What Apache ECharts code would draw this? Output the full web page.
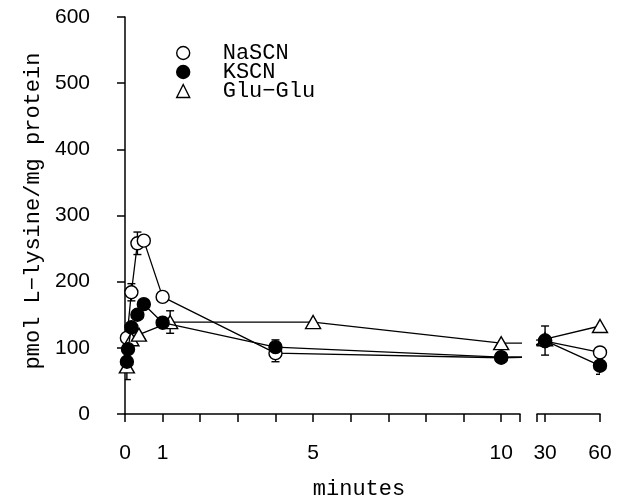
<!DOCTYPE html>
<html>
<head>
<meta charset="utf-8">
<script src="https://cdn.jsdelivr.net/npm/echarts@6/dist/echarts.min.js"></script>
<style>html,body{margin:0;padding:0;background:#fff}#c{width:626px;height:503px}</style>
</head>
<body>
<div id="c"></div>
<script>
// ---- data (minutes, pmol L-lysine / mg protein) ----
const naTime = [0.05, 0.17, 0.33, 0.5, 1, 4, 10, 30, 60];
const naVal  = [115, 184, 258, 262, 177, 92, 85, 110, 93];
const naErr  = [0, 13, 17, 0, 0, 13, 0, 0, 0];

const kTime = [0.05, 0.08, 0.17, 0.33, 0.5, 1, 4, 10, 30, 60];
const kVal  = [79, 98, 131, 150, 166, 138, 101, 86, 111, 73];
const kErr  = [27, 0, 0, 0, 0, 0, 11, 0, 22, 13];

const gTime = [0.05, 0.17, 0.37, 1.2, 5, 10, 30, 60];
const gVal  = [72, 113, 120, 139, 139, 107, 113, 133];
const gErr  = [0, 0, 0, 17, 0, 0, 0, 0];

const seriesNames = ['NaSCN', 'KSCN', 'Glu\u2212Glu'];
const yTicks = [0, 100, 200, 300, 400, 500, 600];
const xLabels1 = [0, 1, 5, 10];
const xTicks1 = [0, 1, 2, 3, 4, 5, 6, 7, 8, 9, 10, 10.5];
const xLabels2 = [30, 60];
const xTicks2 = [25.6, 30, 60];

const chart = echarts.init(document.getElementById('c'), null, {renderer: 'canvas'});

const pairs = (t, v) => t.map((x, i) => [x, v[i]]);
const triples = (t, v, e) => t.map((x, i) => [x, v[i], e[i]]).filter(d => d[2] > 0);

const defs = [
  {name: seriesNames[0], t: naTime, v: naVal, e: naErr, symbol: 'circle', size: 13, fill: '#fff'},
  {name: seriesNames[2], t: gTime, v: gVal, e: gErr, symbol: 'triangle', size: [15, 13], fill: '#fff'},
  {name: seriesNames[1], t: kTime, v: kVal, e: kErr, symbol: 'circle', size: 13, fill: '#000'}
];

function errRender(params, api) {
  const x = api.value(0), v = api.value(1), e = api.value(2);
  const top = api.coord([x, v + e]);
  const bot = api.coord([x, v - e]);
  const w = 4;
  const st = {stroke: '#000', lineWidth: 1.4};
  return {type: 'group', children: [
    {type: 'line', shape: {x1: top[0], y1: top[1], x2: bot[0], y2: bot[1]}, style: st},
    {type: 'line', shape: {x1: top[0] - w, y1: top[1], x2: top[0] + w, y2: top[1]}, style: st},
    {type: 'line', shape: {x1: bot[0] - w, y1: bot[1], x2: bot[0] + w, y2: bot[1]}, style: st}
  ]};
}

const series = [];
[0, 1].forEach(gi => {
  defs.forEach((d, k) => {
    series.push({
      type: 'custom', name: d.name, xAxisIndex: gi, yAxisIndex: gi, clip: true,
      renderItem: errRender, data: triples(d.t, d.v, d.e), z: 1, silent: true
    });
  });
  defs.forEach((d, k) => {
    series.push({
      type: 'line', name: d.name, xAxisIndex: gi, yAxisIndex: gi, clip: true,
      data: pairs(d.t, d.v), symbol: d.symbol, symbolSize: d.size, showAllSymbol: true,
      lineStyle: {color: '#000', width: 1.3},
      itemStyle: {color: d.fill, borderColor: '#000', borderWidth: 1.4},
      z: 2 + k, animation: false
    });
  });
});

const axisCommon = {
  axisLine: {show: true, lineStyle: {color: '#000', width: 1.5}},
  splitLine: {show: false}
};

chart.setOption({
  animation: false,
  backgroundColor: '#fff',
  grid: [
    {left: 125, width: 395, top: 17, height: 397},
    {left: 537, width: 63, top: 17, height: 397}
  ],
  xAxis: [
    Object.assign({}, axisCommon, {
      gridIndex: 0, type: 'value', min: 0, max: 10.5, offset: 8,
      axisTick: {show: true, length: 8, lineStyle: {color: '#000', width: 1.5}, customValues: xTicks1},
      axisLabel: {customValues: xLabels1, margin: 21, color: '#000', fontSize: 21, fontFamily: 'Liberation Sans'}
    }),
    Object.assign({}, axisCommon, {
      gridIndex: 1, type: 'value', min: 25.6, max: 60, offset: 8,
      axisTick: {show: true, length: 8, lineStyle: {color: '#000', width: 1.5}, customValues: xTicks2},
      axisLabel: {customValues: xLabels2, margin: 21, color: '#000', fontSize: 21, fontFamily: 'Liberation Sans'}
    })
  ],
  yAxis: [
    Object.assign({}, axisCommon, {
      gridIndex: 0, type: 'value', min: 0, max: 600, interval: 100, offset: 10,
      axisTick: {show: true, length: 8, lineStyle: {color: '#000', width: 1.5}, customValues: yTicks},
      axisLabel: {customValues: yTicks, margin: 25, color: '#000', fontSize: 21, fontFamily: 'Liberation Sans'}
    }),
    {gridIndex: 1, type: 'value', min: 0, max: 600, show: false, splitLine: {show: false}}
  ],
  legend: {
    orient: 'vertical', left: 171, top: 37, itemGap: -3, itemWidth: 13, itemHeight: 13,
    selectedMode: false,
    textStyle: {fontFamily: 'Liberation Mono', fontSize: 22, color: '#000', padding: [0, 0, 0, 28]},
    data: [
      {name: seriesNames[0], icon: 'circle', itemStyle: {color: '#fff', borderColor: '#000', borderWidth: 1.4}},
      {name: seriesNames[1], icon: 'circle', itemStyle: {color: '#000', borderColor: '#000', borderWidth: 1.4}},
      {name: seriesNames[2], icon: 'triangle', itemStyle: {color: '#fff', borderColor: '#000', borderWidth: 1.4}}
    ]
  },
  graphic: [
    {type: 'text', x: 33, y: 211, rotation: Math.PI / 2,
     style: {text: 'pmol L\u2212lysine/mg protein', font: '22px "Liberation Mono"', fill: '#000', textAlign: 'center', textVerticalAlign: 'middle'}},
    {type: 'text', x: 359, y: 489,
     style: {text: 'minutes', font: '22px "Liberation Mono"', fill: '#000', textAlign: 'center', textVerticalAlign: 'middle'}}
  ],
  series: series
});
</script>
</body>
</html>
